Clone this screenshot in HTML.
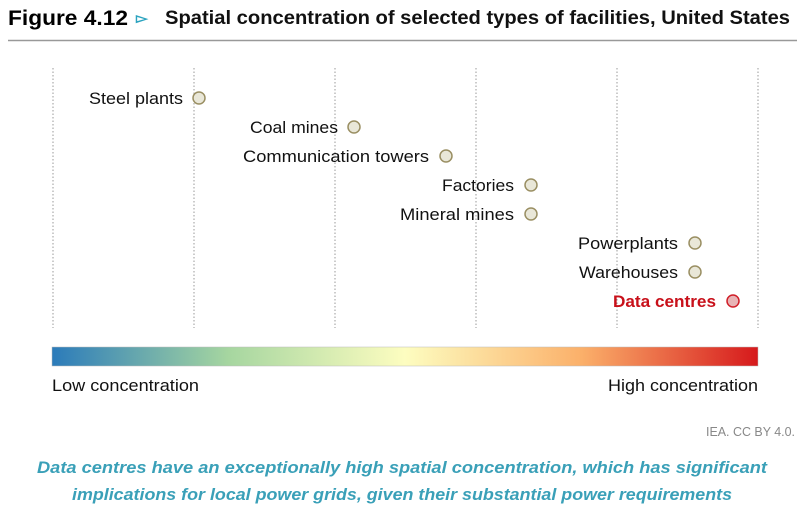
<!DOCTYPE html>
<html><head><meta charset="utf-8"><style>
html,body{margin:0;padding:0;background:#fff;width:800px;height:507px;overflow:hidden}
svg{display:block;font-family:"Liberation Sans",sans-serif}
</style></head><body>
<svg width="800" height="507" viewBox="0 0 800 507" xmlns="http://www.w3.org/2000/svg">
<defs>
<linearGradient id="g" x1="0" x2="1" y1="0" y2="0">
<stop offset="0" stop-color="#2b7bba"/>
<stop offset="0.25" stop-color="#a6d6a0"/>
<stop offset="0.5" stop-color="#fdfdc0"/>
<stop offset="0.75" stop-color="#fbb06a"/>
<stop offset="1" stop-color="#d6191c"/>
</linearGradient>
</defs>
<text x="8" y="25" font-size="21" font-weight="bold" fill="#000" textLength="120" lengthAdjust="spacingAndGlyphs">Figure 4.12</text>
<text x="136" y="23" font-size="15" font-weight="bold" fill="#2ba3bf">▻</text>
<text x="165" y="24" font-size="19" font-weight="bold" fill="#111" textLength="625" lengthAdjust="spacingAndGlyphs">Spatial concentration of selected types of facilities, United States</text>
<line x1="8" y1="40.5" x2="797" y2="40.5" stroke="#999" stroke-width="1.5"/>
<g stroke="#999" stroke-width="1" stroke-dasharray="1.5,2">
<line x1="53" y1="68" x2="53" y2="328"/><line x1="194" y1="68" x2="194" y2="328"/>
<line x1="335" y1="68" x2="335" y2="328"/><line x1="476" y1="68" x2="476" y2="328"/>
<line x1="617" y1="68" x2="617" y2="328"/><line x1="758" y1="68" x2="758" y2="328"/>
</g>
<g font-size="17" fill="#111" text-anchor="end">
<text x="183" y="104" textLength="94" lengthAdjust="spacingAndGlyphs">Steel plants</text>
<text x="338" y="133" textLength="88" lengthAdjust="spacingAndGlyphs">Coal mines</text>
<text x="429" y="162" textLength="186" lengthAdjust="spacingAndGlyphs">Communication towers</text>
<text x="514" y="191" textLength="72" lengthAdjust="spacingAndGlyphs">Factories</text>
<text x="514" y="220" textLength="114" lengthAdjust="spacingAndGlyphs">Mineral mines</text>
<text x="678" y="249" textLength="100" lengthAdjust="spacingAndGlyphs">Powerplants</text>
<text x="678" y="278" textLength="99" lengthAdjust="spacingAndGlyphs">Warehouses</text>
<text x="716" y="307" fill="#c8101a" font-weight="bold" textLength="103" lengthAdjust="spacingAndGlyphs">Data centres</text>
</g>
<g fill="#e9e7d8" stroke="#9a8f63" stroke-width="1.5">
<circle cx="199" cy="98" r="6"/><circle cx="354" cy="127" r="6"/><circle cx="446" cy="156" r="6"/>
<circle cx="531" cy="185" r="6"/><circle cx="531" cy="214" r="6"/><circle cx="695" cy="243" r="6"/>
<circle cx="695" cy="272" r="6"/>
</g>
<circle cx="733" cy="301" r="6" fill="#e8b4b6" stroke="#d0202a" stroke-width="1.5"/>
<rect x="52" y="347" width="706" height="19" fill="url(#g)" stroke="#bbb" stroke-width="0.5"/>
<text x="52" y="391" font-size="17" fill="#111" textLength="147" lengthAdjust="spacingAndGlyphs">Low concentration</text>
<text x="608" y="391" font-size="17" fill="#111" textLength="150" lengthAdjust="spacingAndGlyphs">High concentration</text>
<text x="706" y="436" font-size="13" fill="#888" textLength="89" lengthAdjust="spacingAndGlyphs">IEA. CC BY 4.0.</text>
<g font-size="17" font-style="italic" font-weight="bold" fill="#3aa0b8">
<text x="37" y="473" textLength="730" lengthAdjust="spacingAndGlyphs">Data centres have an exceptionally high spatial concentration, which has significant</text>
<text x="72" y="500" textLength="660" lengthAdjust="spacingAndGlyphs">implications for local power grids, given their substantial power requirements</text>
</g>
</svg>
</body></html>
